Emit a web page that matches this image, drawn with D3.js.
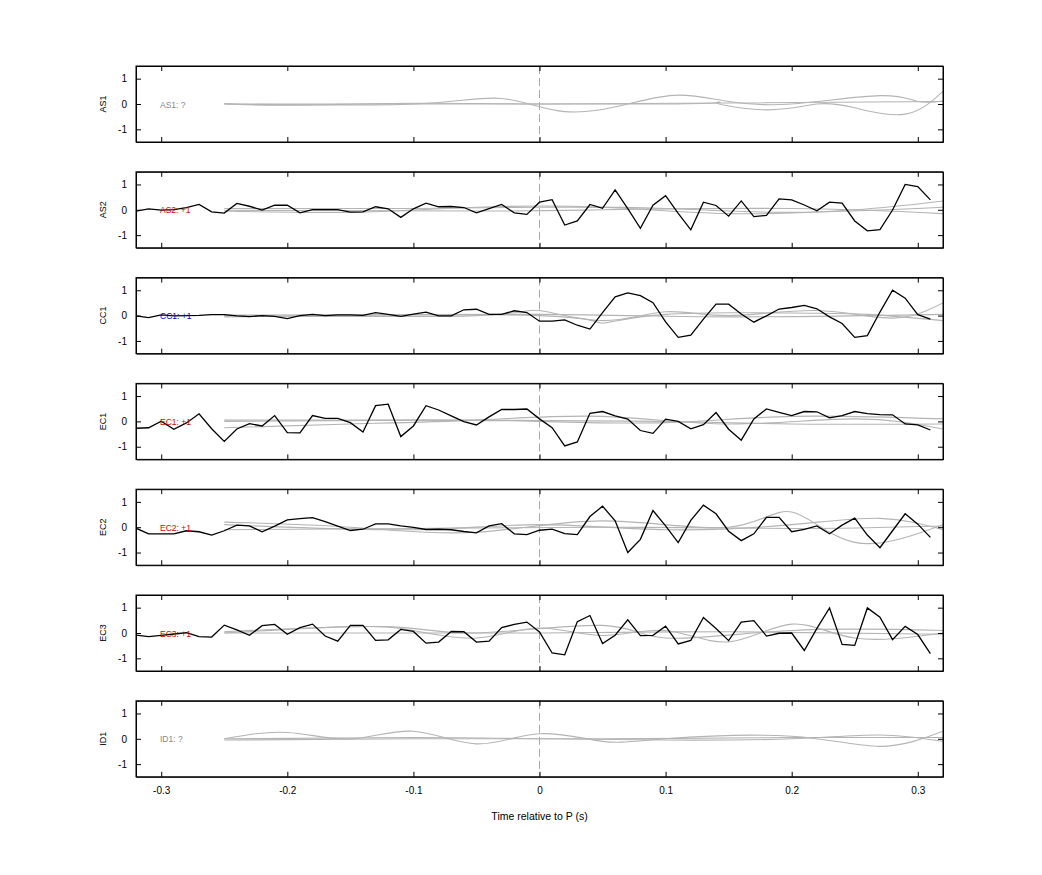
<!DOCTYPE html>
<html><head><meta charset="utf-8">
<script src="https://cdn.jsdelivr.net/npm/d3@7"></script>
<style>body{margin:0;background:#fff;font-family:"Liberation Sans",Arial,sans-serif;}</style>
</head><body><svg id="c" width="1042" height="875"></svg>
<script>
var stations = ["AS1", "AS2", "CC1", "EC1", "EC2", "EC3", "ID1"];
var polarity = ["?", "+1", "+1", "+1", "+1", "+1", "?"];
var labelColors = ["#888", "#d00", "#00c", "#d00", "#d00", "#d00", "#888"];
var xTicks = [-0.3, -0.2, -0.1, 0, 0.1, 0.2, 0.3];
var yTicks = [-1, 0, 1];
// sample times -0.32 .. 0.31 every 0.01
var times = d3.range(64).map(function(i){ return Math.round((-0.32 + i * 0.01) * 100) / 100; });

var trAS2 = [-0.05,0.04,-0.01,0.01,0.09,0.21,-0.08,-0.13,0.25,0.14,-0.01,0.18,0.18,-0.12,0.01,0.01,0.01,-0.09,-0.08,0.12,0.04,-0.3,0.04,0.26,0.12,0.13,0.09,-0.12,0.05,0.21,-0.12,-0.18,0.3,0.4,-0.6,-0.44,0.21,0.06,0.79,0.05,-0.73,0.18,0.56,-0.14,-0.79,0.3,0.17,-0.25,0.35,-0.27,-0.22,0.43,0.39,0.19,-0.04,0.3,0.26,-0.44,-0.83,-0.78,-0.01,1.0,0.92,0.39];
var trCC1 = [-0.01,-0.08,0.03,-0.01,0,0.01,0.04,0.04,-0.01,-0.04,0,-0.03,-0.12,0,0.05,0,0.03,0.03,0.01,0.12,0.05,-0.03,0.06,0.14,-0.01,-0.01,0.23,0.25,0.05,0.05,0.19,0.12,-0.22,-0.22,-0.17,-0.38,-0.53,0.12,0.74,0.9,0.79,0.51,-0.25,-0.86,-0.77,-0.14,0.45,0.45,0.06,-0.26,-0.01,0.26,0.32,0.4,0.27,-0.05,-0.31,-0.86,-0.79,0.14,1.0,0.69,0.04,-0.14];
var trEC1 = [-0.27,-0.25,0.01,-0.31,-0.06,0.3,-0.29,-0.79,-0.3,-0.09,-0.18,0.23,-0.44,-0.45,0.23,0.12,0.12,-0.05,-0.42,0.62,0.68,-0.6,-0.18,0.62,0.45,0.22,-0.01,-0.14,0.18,0.47,0.47,0.49,0.1,-0.25,-0.97,-0.81,0.32,0.39,0.22,0.09,-0.36,-0.47,0.09,0,-0.29,-0.13,0.35,-0.31,-0.74,0.1,0.49,0.36,0.23,0.39,0.38,0.14,0.23,0.39,0.31,0.27,0.26,-0.1,-0.14,-0.34];
var trEC2 = [-0.04,-0.26,-0.26,-0.26,-0.14,-0.18,-0.31,-0.14,0.08,0.05,-0.18,0.04,0.29,0.34,0.38,0.22,0.04,-0.13,-0.08,0.13,0.13,0.05,-0.01,-0.09,-0.08,-0.1,-0.17,-0.22,0.05,0.14,-0.26,-0.29,-0.12,-0.08,-0.25,-0.29,0.42,0.83,0.25,-1.0,-0.48,0.66,0.05,-0.61,0.27,0.87,0.53,-0.16,-0.53,-0.26,0.39,0.39,-0.18,-0.09,0.05,-0.26,0.08,0.36,-0.31,-0.81,-0.14,0.53,0.12,-0.4];
var trEC3 = [-0.08,-0.14,-0.09,-0.04,0.01,-0.14,-0.16,0.31,0.12,-0.09,0.29,0.34,-0.05,0.21,0.35,-0.12,-0.32,0.3,0.3,-0.29,-0.27,0.14,0.06,-0.4,-0.36,0.06,0.05,-0.36,-0.32,0.21,0.34,0.43,0.04,-0.79,-0.86,0.45,0.69,-0.42,-0.09,0.52,-0.1,-0.09,0.27,-0.43,-0.29,0.61,0.18,-0.3,0.43,0.49,-0.12,-0.01,0,-0.69,0.18,0.99,-0.45,-0.49,0.99,0.62,-0.26,0.26,-0.06,-0.81];
var traces = [null, trAS2, trCC1, trEC1, trEC2, trEC3, null];

// synthetic (gray) waveforms, knots [t, amplitude]
var synAS1 = [
  [[-0.25,0],[-0.1,0],[-0.03,0.22],[0.02,-0.3],[0.07,0],[0.11,0.35],[0.15,0.1],[0.2,0],[0.27,0.33],[0.3,0.1],[0.32,0.12]],
  [[-0.25,0],[0.1,0],[0.14,0.05],[0.18,-0.23],[0.22,0],[0.25,-0.15],[0.29,-0.4],[0.32,0.5]],
  [[-0.25,0.02],[-0.2,-0.05],[-0.1,0.03],[0,0],[0.15,0.04],[0.32,0.1]]];
var synAS2 = [
  [[-0.25,-0.05],[-0.15,-0.1],[-0.05,0.1],[0.05,0.1],[0.15,-0.15],[0.25,0],[0.32,0.35]],
  [[-0.25,0.05],[-0.1,0.05],[0,0.1],[0.1,0.05],[0.2,-0.1],[0.32,0.1]],
  [[-0.25,-0.02],[-0.05,-0.05],[0.05,0],[0.2,0.05],[0.32,-0.15]]];
var synCC1 = [
  [[-0.25,0],[-0.05,0],[0,0.2],[0.05,-0.2],[0.1,0.15],[0.15,0],[0.22,0.2],[0.28,-0.1],[0.32,0.5]],
  [[-0.25,-0.05],[0,0],[0.05,-0.3],[0.1,0.05],[0.2,0.1],[0.26,0.05],[0.32,-0.2]],
  [[-0.25,0.02],[0,0.05],[0.15,-0.05],[0.32,0.05]]];
var synEC1 = [
  [[-0.25,-0.25],[-0.15,-0.1],[-0.05,0.05],[0.05,0.2],[0.15,-0.1],[0.25,0.1],[0.32,-0.3]],
  [[-0.25,0],[-0.1,0.05],[0,0],[0.1,-0.05],[0.2,0.2],[0.32,0.1]],
  [[-0.25,0.05],[-0.05,0.05],[0.1,0],[0.2,-0.1],[0.32,-0.1]]];
var synEC2 = [
  [[-0.25,0.2],[-0.15,0],[-0.05,-0.2],[0.05,0.25],[0.15,0],[0.2,0.6],[0.25,-0.6],[0.32,0.1]],
  [[-0.25,0.1],[-0.1,-0.1],[0,0.1],[0.1,-0.1],[0.2,0.1],[0.27,0.35],[0.32,-0.1]],
  [[-0.25,-0.1],[-0.1,-0.05],[0.05,0],[0.2,-0.05],[0.32,0.05]]];
var synEC3 = [
  [[-0.25,0],[-0.15,0.25],[-0.1,0.1],[-0.05,-0.2],[0,0.2],[0.05,-0.1],[0.1,0.1],[0.15,-0.35],[0.2,0.35],[0.25,-0.2],[0.32,0]],
  [[-0.25,0.05],[-0.12,0.25],[-0.05,0],[0.05,0.3],[0.1,-0.2],[0.2,0.1],[0.32,0.1]],
  [[-0.25,0],[0,0],[0.15,0.05],[0.32,-0.05]]];
var synID1 = [
  [[-0.25,0],[-0.2,0.25],[-0.15,0],[-0.1,0.3],[-0.05,-0.2],[0,0.2],[0.05,-0.1],[0.1,0],[0.2,0.1],[0.27,-0.3],[0.32,0.3]],
  [[-0.25,0],[-0.1,0.05],[0,0],[0.1,-0.05],[0.2,0],[0.27,0.15],[0.32,-0.1]],
  [[-0.25,-0.05],[-0.1,0],[0.05,0],[0.2,0.05],[0.32,0.05]]];
var synth = [synAS1, synAS2, synCC1, synEC1, synEC2, synEC3, synID1];

var svg = d3.select("#c");
var left = 136, right = 943, top0 = 66, ph = 76, step = 105.8;
var x = d3.scaleLinear().domain([-0.32, 0.32]).range([left, right]);
// plain hyphen minus, no trailing zeros
var fmt = function(v){ return String(+v.toFixed(2)); };

stations.forEach(function(name, i){
    var t = top0 + i * step;
    var y = d3.scaleLinear().domain([-1.5, 1.5]).range([t + ph, t]);
    var g = svg.append("g");
    var clipId = "clip" + i;
    g.append("clipPath").attr("id", clipId).append("rect")
        .attr("x", left).attr("y", t).attr("width", right - left).attr("height", ph);

    var line = d3.line().x(function(d){ return x(d[0]); }).y(function(d){ return y(d[1]); });
    var smooth = d3.line().curve(d3.curveNatural)
        .x(function(d){ return x(d[0]); }).y(function(d){ return y(d[1]); });

    var plot = g.append("g").attr("clip-path", "url(#" + clipId + ")");
    plot.append("line").attr("x1", x(0)).attr("x2", x(0)).attr("y1", t).attr("y2", t + ph)
        .attr("stroke", "#c99").attr("stroke-dasharray", "8,4");
    synth[i].forEach(function(s){
        plot.append("path").attr("d", smooth(s)).attr("fill", "none")
            .attr("stroke", "#b4b4b4").attr("stroke-width", 1.1);
    });
    if (traces[i]) {
        plot.append("path").attr("d", line(times.map(function(tt, k){ return [tt, traces[i][k]]; })))
            .attr("fill", "none").attr("stroke", "#000").attr("stroke-width", 1.3);
    }
    g.append("text").attr("x", 160).attr("y", y(0) + 3.5).attr("font-size", 8.5)
        .attr("fill", labelColors[i]).text(name + ": " + polarity[i]);

    // axes, ticks inward
    g.append("g").attr("transform", "translate(0," + (t + ph) + ")")
        .call(d3.axisBottom(x).tickValues(xTicks).tickSizeInner(-5).tickSizeOuter(0).tickPadding(10)
            .tickFormat(i === stations.length - 1 ? fmt : ""));
    g.append("g").attr("transform", "translate(0," + t + ")")
        .call(d3.axisTop(x).tickValues(xTicks).tickSizeInner(-5).tickSizeOuter(0).tickFormat(""));
    g.append("g").attr("transform", "translate(" + left + ",0)")
        .call(d3.axisLeft(y).tickValues(yTicks).tickSizeInner(-5).tickSizeOuter(0).tickPadding(9).tickFormat(fmt));
    g.append("g").attr("transform", "translate(" + right + ",0)")
        .call(d3.axisRight(y).tickValues(yTicks).tickSizeInner(-5).tickSizeOuter(0).tickFormat(""));
    g.selectAll(".domain").attr("stroke", "#000");
    g.selectAll(".tick text").attr("font-size", 10).attr("font-family", "Liberation Sans, Arial");
    g.selectAll(".tick line").attr("stroke", "#000");
    g.append("rect").attr("x", left).attr("y", t).attr("width", right - left).attr("height", ph)
        .attr("fill", "none").attr("stroke", "#000");
    g.append("text").attr("transform", "translate(106," + (t + ph / 2) + ") rotate(-90)")
        .attr("text-anchor", "middle").attr("font-size", 9).text(name);
});

svg.append("text").attr("x", (left + right) / 2).attr("y", 820).attr("text-anchor", "middle")
    .attr("font-size", 10.5).text("Time relative to P (s)");
</script></body></html>
